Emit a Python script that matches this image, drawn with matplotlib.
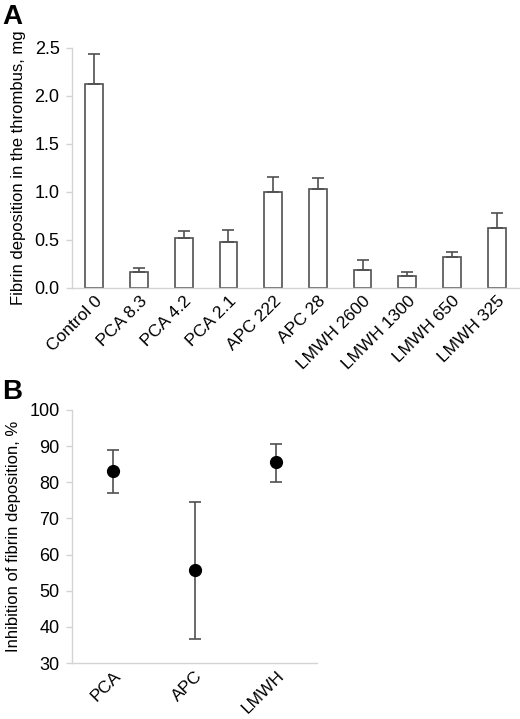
import matplotlib
matplotlib.use('Agg')
import matplotlib.pyplot as plt

plt.rcParams['font.family'] = ['Liberation Sans', 'DejaVu Sans']

# panel A data
groups = ['Control 0', 'PCA 8.3', 'PCA 4.2', 'PCA 2.1', 'APC 222', 'APC 28',
          'LMWH 2600', 'LMWH 1300', 'LMWH 650', 'LMWH 325']
fibrin = [2.12, 0.17, 0.52, 0.48, 1.00, 1.03, 0.19, 0.13, 0.32, 0.63]
fibrin_err = [0.32, 0.04, 0.07, 0.12, 0.16, 0.12, 0.10, 0.04, 0.06, 0.15]

# panel B data
agents = ['PCA', 'APC', 'LMWH']
inhibition = [83.0, 55.8, 85.5]
inh_low = [77.1, 36.6, 80.2]
inh_high = [88.9, 74.6, 90.6]

axis_col = '#d4d4d4'
edge_col = '#505050'

fig = plt.figure(figsize=(5.2, 7.19), dpi=100)


def style_axes(ax):
    for side in ['top', 'right']:
        ax.spines[side].set_visible(False)
    for side in ['left', 'bottom']:
        ax.spines[side].set_color(axis_col)
        ax.spines[side].set_linewidth(1.0)
    ax.tick_params(axis='y', colors=axis_col, labelcolor='black',
                   length=4, width=1.0, labelsize=13, pad=5)
    ax.tick_params(axis='x', length=0, labelsize=12.5, pad=4)


# ---- A ----
axA = fig.add_axes([72 / 520, 1 - 288 / 719, 447 / 520, 240 / 719])
xa = list(range(len(groups)))
axA.bar(xa, fibrin, width=0.4, color='white', edgecolor=edge_col, linewidth=1.2)
axA.errorbar(xa, fibrin, yerr=[[0] * len(fibrin), fibrin_err], fmt='none',
             ecolor=edge_col, elinewidth=1.2, capsize=4.5, capthick=1.2)
axA.set_xlim(-0.5, 9.5)
axA.set_ylim(0, 2.5)
axA.set_yticks([0, 0.5, 1.0, 1.5, 2.0, 2.5])
axA.set_yticklabels(['%.1f' % v for v in [0, 0.5, 1.0, 1.5, 2.0, 2.5]])
axA.set_xticks(xa)
axA.set_xticklabels(groups, rotation=45, ha='right', rotation_mode='anchor')
axA.set_ylabel('Fibrin deposition in the thrombus, mg', fontsize=12, labelpad=6)
style_axes(axA)
fig.text(0.004, 0.995, 'A', fontsize=20, fontweight='bold', va='top', ha='left')

# ---- B ----
axB = fig.add_axes([72 / 520, 1 - 663 / 719, 245 / 520, 253 / 719])
xb = list(range(len(agents)))
lo = [m - l for m, l in zip(inhibition, inh_low)]
hi = [h - m for m, h in zip(inhibition, inh_high)]
axB.errorbar(xb, inhibition, yerr=[lo, hi], fmt='none', ecolor=edge_col,
             elinewidth=1.2, capsize=4.5, capthick=1.2)
axB.plot(xb, inhibition, 'o', color='black', markersize=8.5, zorder=3)
axB.set_xlim(-0.5, 2.5)
axB.set_ylim(30, 100)
axB.set_yticks(range(30, 101, 10))
axB.set_xticks(xb)
axB.set_xticklabels(agents, rotation=45, ha='right', rotation_mode='anchor')
axB.set_ylabel('Inhibition of fibrin deposition, %', fontsize=12, labelpad=6)
style_axes(axB)
fig.text(0.004, 1 - 379 / 719, 'B', fontsize=20, fontweight='bold', va='top', ha='left')

fig.savefig('out.png', dpi=100)
plt.close()
